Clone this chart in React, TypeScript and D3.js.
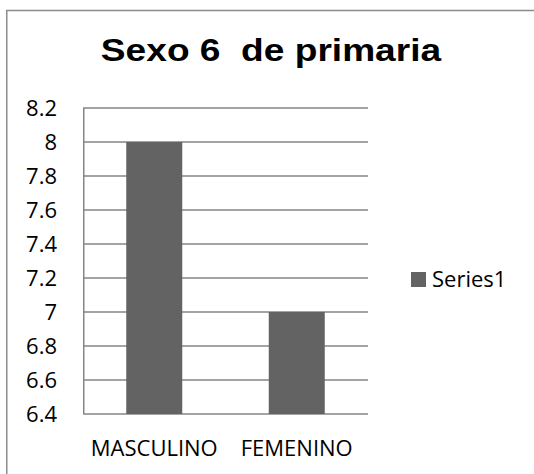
import React from "react";
import * as d3 from "d3";

const categories = ["MASCULINO", "FEMENINO"];
const values = [8, 7];
const yTicks = [6.4, 6.6, 6.8, 7, 7.2, 7.4, 7.6, 7.8, 8, 8.2];
const seriesName = "Series1";
const title = "Sexo 6\u00a0 de primaria";

export default function App() {
  const width = 534;
  const height = 474;
  const plot = { left: 83, right: 368, top: 108, bottom: 414 };

  const x = d3.scaleBand<string>()
    .domain(categories)
    .range([plot.left, plot.right])
    .paddingInner(0.607)
    .paddingOuter(0.3035);

  const y = d3.scaleLinear().domain([6.4, 8.2]).range([plot.bottom, plot.top]);

  const labelFont = "'Open Sans', sans-serif";
  const labelSize = 22;
  const grid = "#868686";
  const barColor = "#636363";

  return (
    <svg
      width={width}
      height={height}
      style={{ position: "absolute", left: 0, top: 0, background: "#fff" }}
    >
      {/* outer chart border, only top and left fall inside the picture */}
      <line x1={6} x2={width} y1={10.5} y2={10.5} stroke="#8c8c8c" strokeWidth={1.5} />
      <line x1={6.75} x2={6.75} y1={10} y2={height} stroke="#8c8c8c" strokeWidth={1.5} />

      {/* title glyphs are a bit wider than plain Arial bold, so stretch it */}
      <text
        transform="translate(271,61) scale(1.16,1)"
        textAnchor="middle"
        fontFamily="'Liberation Sans', Arial, sans-serif"
        fontWeight="bold"
        fontSize={32}
        fill="#000"
      >
        {title}
      </text>

      {yTicks.map((t) => (
        <g key={t}>
          <line
            x1={plot.left}
            x2={plot.right}
            y1={y(t)}
            y2={y(t)}
            stroke={grid}
            strokeWidth={1.5}
          />
          <text
            x={57}
            y={y(t)}
            dy="0.36em"
            textAnchor="end"
            fontFamily={labelFont}
            fontSize={labelSize}
            fill="#000"
          >
            {d3.format("")(t)}
          </text>
        </g>
      ))}
      <line x1={plot.left + 0.75} x2={plot.left + 0.75} y1={plot.top} y2={plot.bottom} stroke={grid} strokeWidth={1.5} />

      {categories.map((c, i) => (
        <g key={c}>
          <rect
            x={x(c)}
            y={y(values[i])}
            width={x.bandwidth()}
            height={plot.bottom - y(values[i])}
            fill={barColor}
          />
          <text
            x={(x(c) ?? 0) + x.bandwidth() / 2}
            y={456}
            textAnchor="middle"
            fontFamily={labelFont}
            fontSize={labelSize}
            fill="#000"
          >
            {c}
          </text>
        </g>
      ))}

      <rect x={411} y={272} width={15} height={15} fill={barColor} />
      <text x={432} y={287} fontFamily={labelFont} fontSize={labelSize} fill="#000">
        {seriesName}
      </text>
    </svg>
  );
}
